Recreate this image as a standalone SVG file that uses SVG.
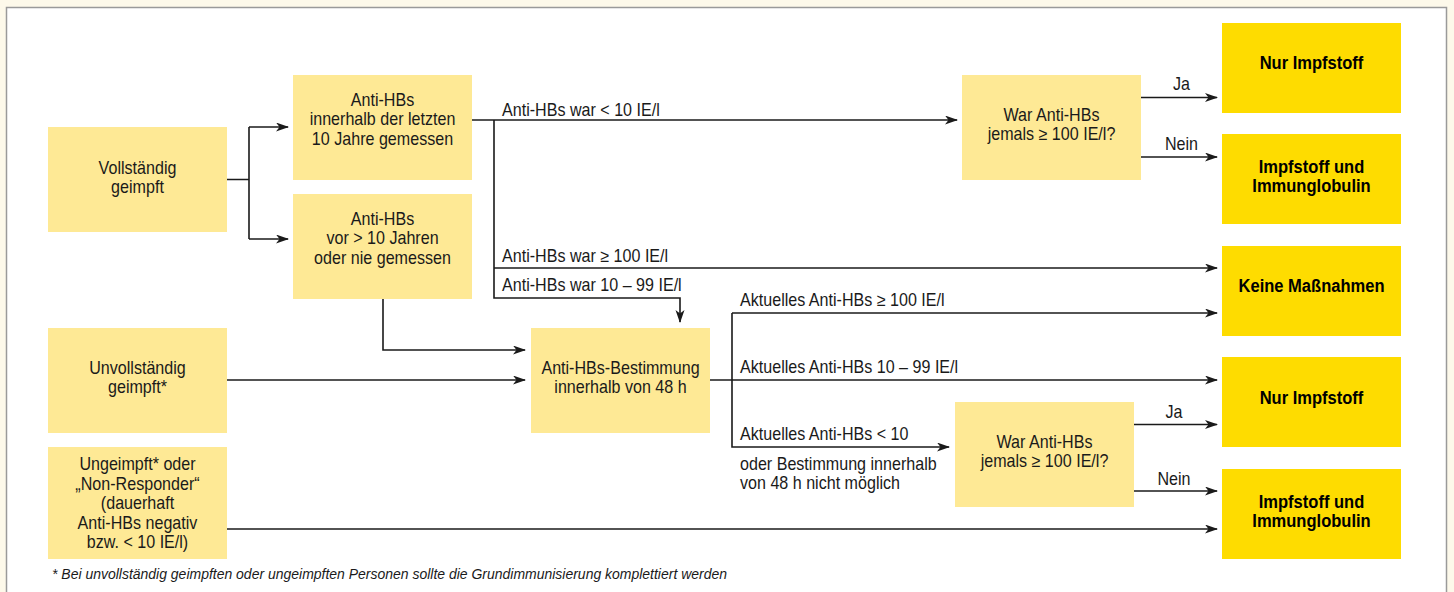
<svg xmlns="http://www.w3.org/2000/svg" width="1454" height="592" viewBox="0 0 1454 592">
<style>
.bg{fill:#fdf9ea}
.panel{fill:#ffffff;stroke:#9a9a9a;stroke-width:1.5}
.lt{fill:#fee995}
.dk{fill:#fedc00}
.t{font-family:"Liberation Sans",Arial,sans-serif;font-size:17.5px;fill:#1a1a1a}
.c{text-anchor:middle}
.b{font-family:"Liberation Sans",Arial,sans-serif;font-size:19px;font-weight:bold;fill:#000;text-anchor:middle}
.fn{font-family:"Liberation Sans",Arial,sans-serif;font-size:14.5px;font-style:italic;fill:#1a1a1a}
.ln{fill:none;stroke:#1a1a1a;stroke-width:1.6}
.ar{marker-end:url(#ah)}
</style>
<defs>
<marker id="ah" markerUnits="userSpaceOnUse" markerWidth="14" markerHeight="10" refX="12" refY="4.5" orient="auto">
<path d="M0,0 L13,4.5 L0,9 L3.5,4.5 Z" fill="#1a1a1a"/>
</marker>
</defs>
<rect class="bg" x="0" y="0" width="1454" height="592"/>
<rect class="panel" x="6.5" y="7.5" width="1440" height="600"/>

<g id="connectors">
<path class="ln" d="M227,179.5 H249 M249,127 V239"/>
<path class="ln ar" d="M249,127 H288"/>
<path class="ln ar" d="M249,239 H288"/>
<path class="ln ar" d="M472,120 H957"/>
<path class="ln ar" d="M494,120 V298 H680 V322"/>
<path class="ln ar" d="M494,268 H1217"/>
<path class="ln ar" d="M383,298 V350 H525"/>
<path class="ln ar" d="M227,380 H525"/>
<path class="ln ar" d="M710,380 H1217"/>
<path class="ln ar" d="M732,313 H1217"/>
<path class="ln ar" d="M732,313 V447 H949"/>
<path class="ln ar" d="M227,529 H1217"/>
<path class="ln ar" d="M1141,97.5 H1217"/>
<path class="ln ar" d="M1141,157 H1217"/>
<path class="ln ar" d="M1134,424.5 H1217"/>
<path class="ln ar" d="M1134,491 H1217"/>
<text class="t" transform="translate(502,115.5) scale(.92,1)">Anti-HBs war &lt; 10 IE/l</text>
<text class="t" transform="translate(502,261.5) scale(.92,1)">Anti-HBs war ≥ 100 IE/l</text>
<text class="t" transform="translate(502,290.5) scale(.92,1)">Anti-HBs war 10 – 99 IE/l</text>
<text class="t" transform="translate(740,306) scale(.92,1)">Aktuelles Anti-HBs ≥ 100 IE/l</text>
<text class="t" transform="translate(740,372.5) scale(.92,1)">Aktuelles Anti-HBs 10 – 99 IE/l</text>
<text class="t" transform="translate(740,440) scale(.92,1)">Aktuelles Anti-HBs &lt; 10</text>
<text class="t" transform="translate(740,470) scale(.92,1)">oder Bestimmung innerhalb<tspan x="0" dy="19.5">von 48 h nicht möglich</tspan></text>
<text class="t c" transform="translate(1181.5,90) scale(.92,1)">Ja</text>
<text class="t c" transform="translate(1181.5,150) scale(.92,1)">Nein</text>
<text class="t c" transform="translate(1174,417.5) scale(.92,1)">Ja</text>
<text class="t c" transform="translate(1174,484.5) scale(.92,1)">Nein</text>
</g>

<g id="n-vollstaendig">
<rect class="lt" x="48" y="127" width="179" height="105"/>
<text class="t c" transform="translate(137.5,173.5) scale(.92,1)">Vollständig<tspan x="0" dy="19.5">geimpft</tspan></text>
</g>
<g id="n-innerhalb">
<rect class="lt" x="293" y="75" width="179" height="105"/>
<text class="t c" transform="translate(382.5,106) scale(.92,1)">Anti-HBs<tspan x="0" dy="19.5">innerhalb der letzten</tspan><tspan x="0" dy="19.5">10 Jahre gemessen</tspan></text>
</g>
<g id="n-vor">
<rect class="lt" x="293" y="194" width="179" height="105"/>
<text class="t c" transform="translate(382.5,225) scale(.92,1)">Anti-HBs<tspan x="0" dy="19.5">vor &gt; 10 Jahren</tspan><tspan x="0" dy="19.5">oder nie gemessen</tspan></text>
</g>
<g id="n-unvollstaendig">
<rect class="lt" x="48" y="328" width="179" height="105"/>
<text class="t c" transform="translate(137.5,373.5) scale(.92,1)">Unvollständig<tspan x="0" dy="19.5">geimpft*</tspan></text>
</g>
<g id="n-ungeimpft">
<rect class="lt" x="48" y="447" width="179" height="112"/>
<text class="t c" transform="translate(137.5,470) scale(.92,1)">Ungeimpft* oder<tspan x="0" dy="19.6">„Non-Responder“</tspan><tspan x="0" dy="19.6">(dauerhaft</tspan><tspan x="0" dy="19.6">Anti-HBs negativ</tspan><tspan x="0" dy="19.6">bzw. &lt; 10 IE/l)</tspan></text>
</g>
<g id="n-bestimmung">
<rect class="lt" x="531" y="328" width="179" height="105"/>
<text class="t c" transform="translate(620.5,374) scale(.92,1)">Anti-HBs-Bestimmung<tspan x="0" dy="19">innerhalb von 48 h</tspan></text>
</g>
<g id="n-war1">
<rect class="lt" x="962" y="75" width="179" height="105"/>
<text class="t c" transform="translate(1051.5,120.5) scale(.92,1)">War Anti-HBs<tspan x="0" dy="19.5">jemals ≥ 100 IE/l?</tspan></text>
</g>
<g id="n-war2">
<rect class="lt" x="955" y="402" width="179" height="105"/>
<text class="t c" transform="translate(1044.5,447.5) scale(.92,1)">War Anti-HBs<tspan x="0" dy="19.5">jemals ≥ 100 IE/l?</tspan></text>
</g>
<g id="r-nur1">
<rect class="dk" x="1222" y="23" width="179" height="90"/>
<text class="b" transform="translate(1311.5,68.5) scale(.87,1)">Nur Impfstoff</text>
</g>
<g id="r-iig1">
<rect class="dk" x="1222" y="134" width="179" height="90"/>
<text class="b" transform="translate(1311.5,172.5) scale(.87,1)">Impfstoff und<tspan x="0" dy="19.5">Immunglobulin</tspan></text>
</g>
<g id="r-keine">
<rect class="dk" x="1222" y="246" width="179" height="90"/>
<text class="b" transform="translate(1311.5,291.5) scale(.87,1)">Keine Maßnahmen</text>
</g>
<g id="r-nur2">
<rect class="dk" x="1222" y="357" width="179" height="90"/>
<text class="b" transform="translate(1311.5,403.5) scale(.87,1)">Nur Impfstoff</text>
</g>
<g id="r-iig2">
<rect class="dk" x="1222" y="469" width="179" height="90"/>
<text class="b" transform="translate(1311.5,507.5) scale(.87,1)">Impfstoff und<tspan x="0" dy="19.5">Immunglobulin</tspan></text>
</g>

<text class="fn" x="52" y="579" textLength="675" lengthAdjust="spacingAndGlyphs">* Bei unvollständig geimpften oder ungeimpften Personen sollte die Grundimmunisierung komplettiert werden</text>
</svg>
